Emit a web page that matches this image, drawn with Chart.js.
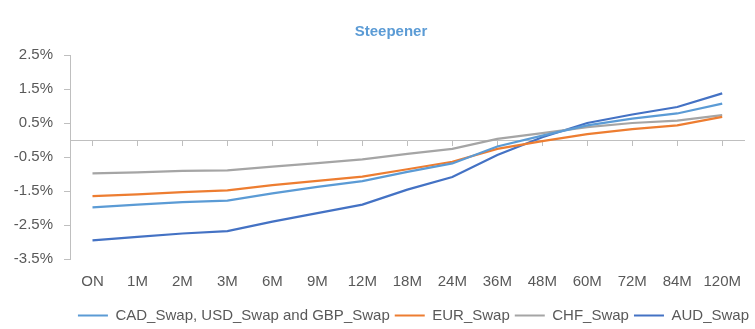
<!DOCTYPE html>
<html>
<head>
<meta charset="utf-8">
<script src="https://cdn.jsdelivr.net/npm/chart.js@4/dist/chart.umd.min.js"></script>
<style>
  html, body { margin: 0; padding: 0; background: #ffffff; }
  #wrap { width: 755px; height: 329px; }
</style>
</head>
<body>
<div id="wrap"><canvas id="chart" width="755" height="329"></canvas></div>
<script>
// Swap curve tenors and rates (%)
const categories = ['ON', '1M', '2M', '3M', '6M', '9M', '12M', '18M', '24M', '36M', '48M', '60M', '72M', '84M', '120M'];
const cadUsdGbpSwap = [-1.98, -1.90, -1.83, -1.78, -1.57, -1.38, -1.21, -0.94, -0.69, -0.19, 0.13, 0.43, 0.63, 0.78, 1.07];
const eurSwap       = [-1.65, -1.60, -1.53, -1.48, -1.33, -1.20, -1.08, -0.86, -0.64, -0.26, -0.03, 0.17, 0.32, 0.43, 0.68];
const chfSwap       = [-0.98, -0.95, -0.91, -0.89, -0.78, -0.68, -0.57, -0.41, -0.26, 0.03, 0.20, 0.38, 0.50, 0.57, 0.73];
const audSwap       = [-2.95, -2.85, -2.75, -2.68, -2.40, -2.15, -1.90, -1.46, -1.09, -0.44, 0.08, 0.50, 0.75, 0.97, 1.37];
const yTicks = [-3.5, -2.5, -1.5, -0.5, 0.5, 1.5, 2.5];
const seriesNames = ['CAD_Swap, USD_Swap and GBP_Swap', 'EUR_Swap', 'CHF_Swap', 'AUD_Swap'];
const chartTitle = 'Steepener';

const FONT = "'Liberation Sans', Arial, sans-serif";
const TEXT = '#595959';
const AXIS = '#BFBFBF';
const colors = ['#5B9BD5', '#ED7D31', '#A5A5A5', '#4472C4'];

const series = [cadUsdGbpSwap, eurSwap, chfSwap, audSwap];

// Title drawn above the plot
const titlePlugin = {
  id: 'titleText',
  afterDraw(chart) {
    const ctx = chart.ctx;
    ctx.save();
    ctx.font = "bold 15px " + FONT;
    ctx.fillStyle = '#5B9BD5';
    ctx.textAlign = 'center';
    ctx.textBaseline = 'middle';
    ctx.fillText(chartTitle, 391, 32);
    ctx.restore();
  }
};

new Chart(document.getElementById('chart'), {
  type: 'line',
  data: {
    labels: categories,
    datasets: series.map((d, i) => ({
      label: seriesNames[i],
      data: d,
      borderColor: colors[i],
      backgroundColor: colors[i],
      borderWidth: 2.25,
      pointRadius: 0,
      pointHoverRadius: 0,
      tension: 0,
      fill: false,
      xAxisID: 'x',
      yAxisID: 'y'
    }))
  },
  options: {
    responsive: false,
    animation: false,
    devicePixelRatio: 1,
    layout: { padding: { top: 55, left: 0, right: 1, bottom: -4 } },
    plugins: {
      title: { display: false },
      tooltip: { enabled: false },
      legend: {
        position: 'bottom',
        align: 'end',
        labels: {
          boxWidth: 30,
          boxHeight: 2,
          padding: 5,
          color: TEXT,
          font: { family: FONT, size: 15 },
          generateLabels(chart) {
            return chart.data.datasets.map((ds, i) => ({
              text: ds.label,
              fillStyle: ds.borderColor,
              strokeStyle: ds.borderColor,
              lineWidth: 0,
              fontColor: TEXT,
              hidden: false,
              datasetIndex: i
            }));
          }
        }
      }
    },
    scales: {
      x: {
        type: 'category',
        position: 'bottom',
        offset: true,
        grid: { display: false, drawTicks: false },
        border: { display: false },
        afterFit(scale) { scale.height -= 2; },
        ticks: { color: TEXT, font: { family: FONT, size: 15 }, padding: 14, maxRotation: 0, autoSkip: false }
      },
      xZero: {
        type: 'category',
        axis: 'x',
        position: { y: 0 },
        offset: true,
        grid: { display: true, drawOnChartArea: false, drawTicks: true, tickLength: 5, color: AXIS, lineWidth: 1 },
        border: { display: true, color: AXIS, width: 1 },
        ticks: { display: false }
      },
      y: {
        type: 'linear',
        position: 'left',
        min: -3.5,
        max: 2.5,
        afterBuildTicks(scale) { scale.ticks = yTicks.map(v => ({ value: v })); },
        afterFit(scale) { scale.width = 70; },
        grid: { display: true, drawOnChartArea: false, drawTicks: true, tickLength: 6, color: AXIS, lineWidth: 1 },
        border: { display: true, color: AXIS, width: 1 },
        ticks: {
          color: TEXT,
          font: { family: FONT, size: 15 },
          padding: 11,
          callback: v => v.toFixed(1) + '%'
        }
      }
    }
  },
  plugins: [titlePlugin]
});
</script>
</body>
</html>
